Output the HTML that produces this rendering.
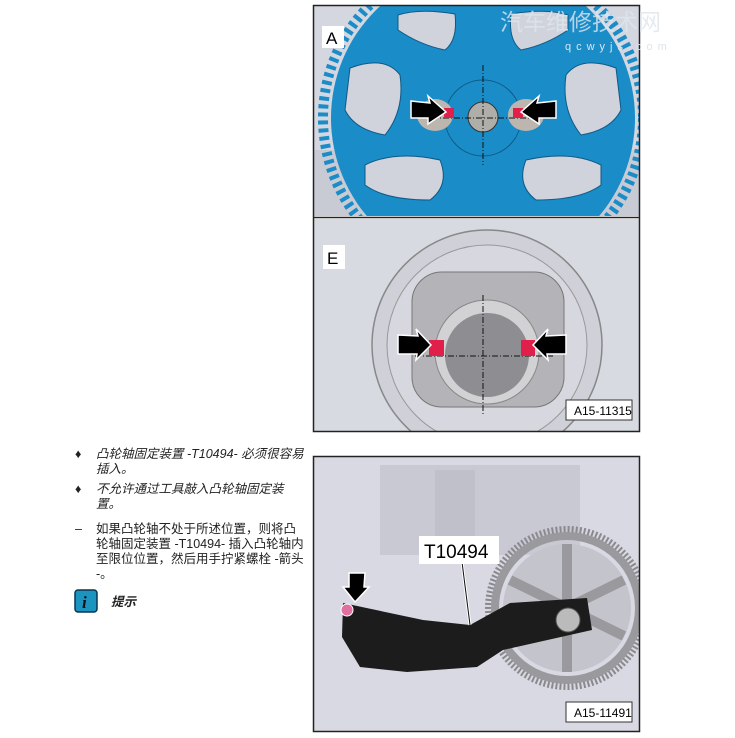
<!DOCTYPE html>
<html><head><meta charset="utf-8"><style>
body{margin:0;background:#fff;width:735px;height:738px;overflow:hidden;position:relative;font-family:"Liberation Sans","Noto Sans CJK SC",sans-serif;}
.t{position:absolute;font-size:12.5px;line-height:15px;color:#222;}
.i{font-style:italic;}
</style></head><body>
<svg width="735" height="738" style="position:absolute;left:0;top:0">
<defs>
<clipPath id="c1"><rect x="314" y="6" width="325" height="210"/></clipPath>
<clipPath id="c2"><rect x="314" y="219" width="325" height="212"/></clipPath>
<clipPath id="c3"><rect x="314" y="457" width="325" height="274"/></clipPath>
</defs>
<!-- panel A -->
<g clip-path="url(#c1)">
<rect x="314" y="6" width="325" height="210" fill="#d4d6e0"/>
<rect x="314" y="150" width="325" height="66" fill="#c8cad4"/>
<circle cx="483" cy="118" r="160" fill="none" stroke="#1a8cc8" stroke-width="10" stroke-dasharray="4 4"/>
<circle cx="483" cy="118" r="152" fill="#1a8cc8"/>
<g fill="#d0d2dc" stroke="#0e5a85" stroke-width="1">
<path d="M398,15 Q420,8 455,14 Q458,40 445,50 Q420,45 398,30 Z"/>
<path d="M568,15 Q546,8 511,14 Q508,40 521,50 Q546,45 568,30 Z"/>
<path d="M350,68 Q385,55 400,75 Q405,110 385,135 Q355,130 345,110 Z"/>
<path d="M616,68 Q581,55 566,75 Q561,110 581,135 Q611,130 621,110 Z"/>
<path d="M365,165 Q395,150 440,160 Q450,185 430,200 Q385,200 365,185 Z"/>
<path d="M601,165 Q571,150 526,160 Q516,185 536,200 Q581,200 601,185 Z"/>
</g>
<circle cx="483" cy="118" r="38" fill="#1a8cc8" stroke="#0e5a85"/>
<ellipse cx="435" cy="115" rx="18" ry="16" fill="#bcb6ae"/>
<ellipse cx="526" cy="115" rx="18" ry="16" fill="#bcb6ae"/>
<circle cx="483" cy="117" r="15" fill="#b0aea8" stroke="#333"/>
<line x1="483" y1="65" x2="483" y2="165" stroke="#111" stroke-dasharray="6 2 1 2"/>
<line x1="410" y1="118" x2="555" y2="118" stroke="#111" stroke-dasharray="6 2 1 2"/>
<rect x="444" y="108" width="10" height="10" fill="#e0204a"/>
<rect x="513" y="108" width="10" height="10" fill="#e0204a"/>
<polygon points="411,101 430,103 428,96 446,112 428,124 428,118 411,118" fill="#000" stroke="#fff" stroke-width="1.5"/>
<polygon points="556,101 537,103 539,96 521,112 539,124 539,118 556,118" fill="#000" stroke="#fff" stroke-width="1.5"/>
<rect x="322" y="26" width="22" height="22" fill="#fff"/>
<text x="326" y="44" font-size="17" font-family="Liberation Sans">A</text>
</g>
<!-- panel E -->
<g clip-path="url(#c2)">
<rect x="314" y="219" width="325" height="212" fill="#d8dae2"/>
<circle cx="487" cy="345" r="115" fill="#cfd0d8" stroke="#888" stroke-width="1.5"/>
<circle cx="487" cy="345" r="100" fill="#d6d7df" stroke="#999"/>
<rect x="412" y="272" width="152" height="135" rx="30" fill="#b4b4b8" stroke="#777"/>
<circle cx="487" cy="352" r="52" fill="#d2d2d4" stroke="#888"/>
<circle cx="487" cy="355" r="42" fill="#8e8e92"/>
<line x1="483" y1="295" x2="483" y2="415" stroke="#111" stroke-dasharray="6 2 1 2"/>
<line x1="415" y1="356" x2="555" y2="356" stroke="#111" stroke-dasharray="6 2 1 2"/>
<rect x="429" y="340" width="15" height="16" fill="#e0204a"/>
<rect x="521" y="340" width="14" height="16" fill="#e0204a"/>
<polygon points="398,335 418,336 416,329 431,345 416,360 417,354 398,354" fill="#000" stroke="#fff" stroke-width="1.5"/>
<polygon points="566,335 546,336 548,329 533,345 548,360 547,354 566,354" fill="#000" stroke="#fff" stroke-width="1.5"/>
<rect x="323" y="245" width="22" height="24" fill="#fff"/>
<text x="327" y="264" font-size="17" font-family="Liberation Sans">E</text>
<rect x="566" y="400" width="66" height="20" fill="#fff" stroke="#333"/>
<text x="574" y="415" font-size="12" font-family="Liberation Sans">A15-11315</text>
</g>
<rect x="313.5" y="5.5" width="326" height="426" fill="none" stroke="#222" stroke-width="1.5"/>
<line x1="313" y1="217.5" x2="640" y2="217.5" stroke="#222" stroke-width="1.5"/>
<!-- panel 3 -->
<g clip-path="url(#c3)">
<rect x="314" y="457" width="325" height="274" fill="#d8d9e2"/>
<rect x="380" y="465" width="200" height="90" fill="#c8c9d3"/>
<rect x="435" y="470" width="40" height="70" fill="#bfc0ca"/>
<circle cx="567" cy="608" r="78" fill="none" stroke="#8a8a8e" stroke-width="8" stroke-dasharray="2 2"/>
<circle cx="567" cy="608" r="72" fill="none" stroke="#9a9a9e" stroke-width="8"/>
<circle cx="567" cy="608" r="64" fill="#c4c4cc"/>
<g stroke="#9a9a9e" stroke-width="10"><line x1="567" y1="544" x2="567" y2="672"/><line x1="510" y1="580" x2="624" y2="636"/><line x1="510" y1="636" x2="624" y2="580"/></g>
<polygon points="343,603 423,620 470,625 510,603 587,598 592,630 503,650 477,667 407,672 360,667 342,637" fill="#1c1c1c"/>
<circle cx="568" cy="620" r="12" fill="#bbb" stroke="#555"/>
<circle cx="347" cy="610" r="6" fill="#e070a0" stroke="#fff"/>
<polygon points="349,573 365,573 364,587 369,587 355,602 343,587 349,587" fill="#000" stroke="#fff" stroke-width="1.5"/>
<line x1="462" y1="562" x2="470" y2="625" stroke="#fff" stroke-width="3"/>
<line x1="462" y1="562" x2="470" y2="625" stroke="#111" stroke-width="1"/>
<rect x="419" y="536" width="80" height="28" fill="#fff"/>
<text x="424" y="558" font-size="19" font-family="Liberation Sans">T10494</text>
<rect x="566" y="702" width="66" height="20" fill="#fff" stroke="#333"/>
<text x="574" y="717" font-size="12" font-family="Liberation Sans">A15-11491</text>
</g>
<rect x="313.5" y="456.5" width="326" height="275" fill="none" stroke="#222" stroke-width="1.5"/>
<!-- info icon -->
<rect x="75" y="590" width="22" height="22" rx="3" fill="#1b94c0" stroke="#0a3550" stroke-width="1.5"/>
<text x="82" y="608" font-size="17" font-weight="bold" font-style="italic" fill="#111" font-family="Liberation Serif">i</text>
<text x="500" y="30" font-size="23" fill="#dce6ee" fill-opacity="0.8" font-family="Noto Sans CJK SC">汽车维修技术网</text>
<text x="565" y="50" font-size="11" fill="#dce6ee" font-family="Liberation Sans" letter-spacing="5">qcwyjs.com</text>
</svg>
<div class="t" style="left:75px;top:447px">♦</div>
<div class="t i" style="left:96px;top:447px;width:212px">凸轮轴固定装置 -T10494- 必须很容易插入。</div>
<div class="t" style="left:75px;top:482px">♦</div>
<div class="t i" style="left:96px;top:482px;width:200px">不允许通过工具敲入凸轮轴固定装置。</div>
<div class="t" style="left:75px;top:522px">–</div>
<div class="t" style="left:96px;top:522px;width:218px">如果凸轮轴不处于所述位置，则将凸<br>轮轴固定装置 -T10494- 插入凸轮轴内<br>至限位位置，然后用手拧紧螺栓 -箭头<br>-。</div>
<div class="t i" style="left:111px;top:595px;font-weight:bold">提示</div>
</body></html>
